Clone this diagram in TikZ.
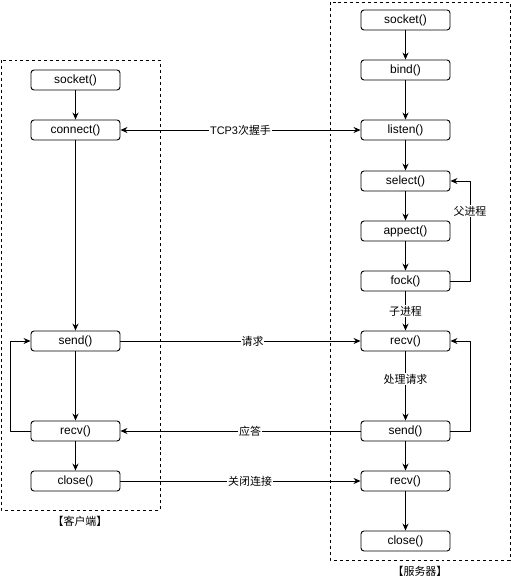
\documentclass[tikz,border=0pt]{standalone}
\usepackage{fontspec}
\setmainfont{Liberation Sans}
\newfontfamily\cjk{Noto Sans CJK SC}
\usetikzlibrary{arrows.meta}

\begin{document}
\begin{tikzpicture}[x=1bp, y=-1bp, >={Stealth[length=7bp,width=6bp]},
  line join=bevel, line width=0.9bp, font=\fontsize{12}{14}\selectfont,
  call/.style={draw, rectangle, rounded corners=3bp, minimum width=89bp,
    minimum height=20bp, inner sep=0pt, fill=white},
  lbl/.style={fill=white, inner sep=1bp, font=\fontsize{11}{13}\selectfont\cjk},
  side/.style={draw, dashed, line width=0.8bp}]
\useasboundingbox (0,0) rectangle (511,581);
%% frames
\draw [side] (1,60) rectangle (160,510);
\draw [side] (330,2) rectangle (510,560);
\node (cli_title) at (80,521) {\fontsize{11}{13}\selectfont\cjk 【客户端】};
\node (srv_title) at (420,571) {\fontsize{11}{13}\selectfont\cjk 【服务器】};
%% client side
\node (cli_socket) at (75.5,80) [call] {socket()};
\node (cli_connect) at (75.5,130) [call] {connect()};
\node (cli_send) at (75.5,341) [call] {send()};
\node (cli_recv) at (75.5,431) [call] {recv()};
\node (cli_close) at (75.5,481) [call] {close()};
%% server side
\node (srv_socket) at (405.5,20) [call] {socket()};
\node (srv_bind) at (405.5,70) [call] {bind()};
\node (srv_listen) at (405.5,130) [call] {listen()};
\node (srv_select) at (405.5,181) [call] {select()};
\node (srv_appect) at (405.5,231) [call] {appect()};
\node (srv_fock) at (405.5,281) [call] {fock()};
\node (srv_recv) at (405.5,341) [call] {recv()};
\node (srv_send) at (405.5,431) [call] {send()};
\node (srv_recv2) at (405.5,481) [call] {recv()};
\node (srv_close) at (405.5,541) [call] {close()};

\draw [->] (cli_socket) -- (cli_connect);
\draw [->] (cli_connect) -- (cli_send);
\draw [->] (cli_send) -- (cli_recv);
\draw [->] (cli_recv) -- (cli_close);
\draw [->] (cli_recv.west) -- (10,431) |- (cli_send.west);

\draw [->] (srv_socket) -- (srv_bind);
\draw [->] (srv_bind) -- (srv_listen);
\draw [->] (srv_listen) -- (srv_select);
\draw [->] (srv_select) -- (srv_appect);
\draw [->] (srv_appect) -- (srv_fock);
\draw [->] (srv_fock) -- node [lbl] {子进程} (srv_recv);
\draw [->] (srv_recv) -- node [lbl, pos=0.4] {处理请求} (srv_send);
\draw [->] (srv_send) -- (srv_recv2);
\draw [->] (srv_recv2) -- (srv_close);
\draw [->] (srv_fock.east) -- (470,281) -- node [lbl, pos=0.7] {父进程} (470,181)
  -- (srv_select.east);
\draw [->] (srv_send.east) -- (470,431) |- (srv_recv.east);

%% messages
\draw [<->] (cli_connect) -- node [lbl, pos=0.5] {\fontspec{Liberation Sans}TCP3\cjk 次握手} (srv_listen);
\draw [->] (cli_send) -- node [lbl, pos=0.55] {请求} (srv_recv);
\draw [->] (srv_send) -- node [lbl, pos=0.46] {应答} (cli_recv);
\draw [->] (cli_close) -- node [lbl, pos=0.54] {关闭连接} (srv_recv2);
\end{tikzpicture}
\end{document}
